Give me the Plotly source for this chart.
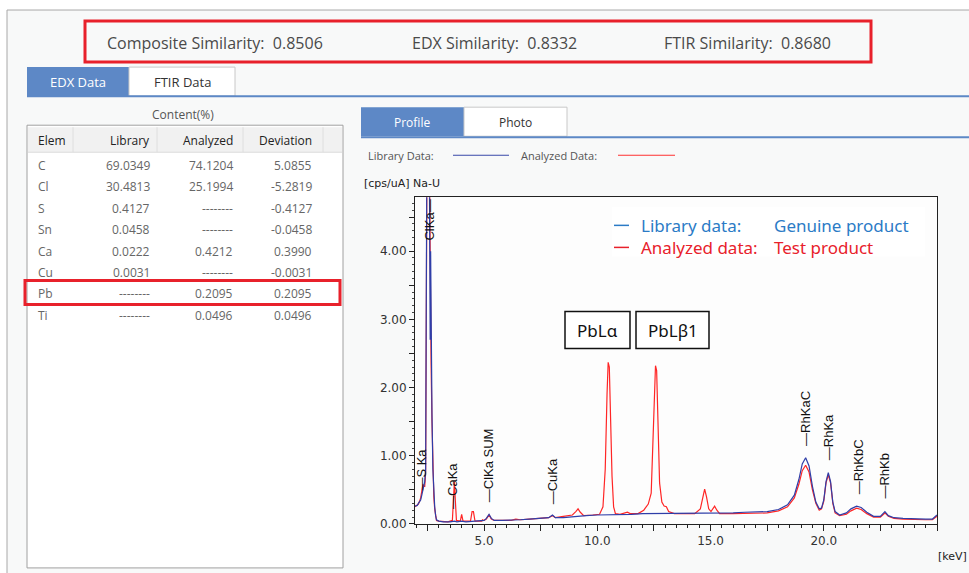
import plotly.graph_objects as go

# ---------------- data ----------------
lib_kev = [1.95, 2.00, 2.05, 2.10, 2.15, 2.20, 2.25, 2.30, 2.34, 2.38, 2.42, 2.45, 2.48, 2.56, 2.60, 2.62,
           2.64, 2.66, 2.70, 2.74, 2.78, 2.82, 2.86, 2.90, 3.00, 3.20, 3.50, 3.69, 3.80, 4.00, 4.20, 4.50,
           4.80, 5.00, 5.10, 5.22, 5.32, 5.45, 5.80, 6.20, 6.60, 7.00, 7.50, 7.85, 8.02, 8.15, 8.50, 9.00,
           9.50, 10.00, 10.50, 11.00, 11.50, 12.00, 12.50, 13.00, 13.50, 14.00, 14.50, 15.00, 15.50, 16.00,
           16.50, 17.00, 17.50, 18.00, 18.40, 18.70, 18.90, 19.05, 19.20, 19.35, 19.50, 19.65, 19.80, 19.90,
           20.00, 20.10, 20.20, 20.30, 20.40, 20.50, 20.70, 21.00, 21.20, 21.45, 21.65, 21.90, 22.20, 22.50,
           22.70, 22.85, 23.10, 23.50, 24.00, 24.50, 24.80, 24.95, 25.00]
lib_cps = [0.26, 0.27, 0.27, 0.30, 0.32, 0.35, 0.42, 0.52, 0.58, 0.62, 0.80, 2.50, 6.00, 7.00, 5.00, 2.70,
           4.00, 2.80, 1.60, 0.80, 0.45, 0.25, 0.12, 0.06, 0.04, 0.03, 0.03, 0.04, 0.03, 0.04, 0.03, 0.04,
           0.04, 0.05, 0.08, 0.14, 0.08, 0.05, 0.05, 0.05, 0.06, 0.07, 0.08, 0.09, 0.13, 0.09, 0.09, 0.11,
           0.12, 0.13, 0.13, 0.14, 0.14, 0.15, 0.15, 0.16, 0.16, 0.16, 0.16, 0.16, 0.16, 0.16,
           0.17, 0.17, 0.18, 0.21, 0.28, 0.42, 0.65, 0.88, 0.97, 0.85, 0.55, 0.32, 0.22, 0.23,
           0.35, 0.62, 0.75, 0.62, 0.32, 0.18, 0.13, 0.16, 0.22, 0.26, 0.24, 0.17, 0.11, 0.11,
           0.18, 0.12, 0.09, 0.08, 0.07, 0.07, 0.07, 0.11, 0.13]

ana_kev = [1.95, 2.05, 2.10, 2.15, 2.20, 2.25, 2.30, 2.34, 2.38, 2.42, 2.45, 2.48, 2.56, 2.60, 2.62, 2.64,
           2.66, 2.70, 2.74, 2.78, 2.82, 2.86, 2.90, 3.00, 3.20, 3.40, 3.60, 3.65, 3.69, 3.73, 3.78, 3.95,
           4.01, 4.07, 4.40, 4.47, 4.53, 4.60, 4.90, 4.93, 5.00, 5.10, 5.22, 5.32, 5.45, 5.80, 6.20, 6.40,
           6.60, 7.00, 7.50, 7.85, 8.02, 8.15, 8.50, 8.90, 9.05, 9.15, 9.25, 9.40, 9.80, 10.10, 10.25,
           10.35, 10.43, 10.48, 10.53, 10.58, 10.65, 10.72, 10.80, 11.00, 11.20, 11.33, 11.45, 11.80, 12.05,
           12.25, 12.38, 12.45, 12.52, 12.57, 12.62, 12.68, 12.75, 12.85, 12.95, 13.05, 13.15, 13.40, 13.80,
           14.30, 14.55, 14.68, 14.74, 14.82, 14.92, 15.02, 15.18, 15.28, 15.40, 16.00, 16.50, 17.00, 17.50,
           18.00, 18.40, 18.70, 18.90, 19.05, 19.20, 19.35, 19.50, 19.65, 19.80, 19.90, 20.00, 20.10, 20.20,
           20.30, 20.40, 20.50, 20.70, 21.00, 21.20, 21.45, 21.65, 21.90, 22.20, 22.50, 22.70, 22.85, 23.10,
           23.50, 24.00, 24.50, 24.80, 24.95, 25.00]
ana_cps = [0.25, 0.27, 0.29, 0.33, 0.38, 0.48, 0.58, 0.55, 0.55, 0.75, 2.30, 5.50, 6.50, 4.50, 3.00, 3.25,
           2.35, 1.50, 0.85, 0.40, 0.22, 0.10, 0.05, 0.04, 0.03, 0.03, 0.05, 0.35, 0.62, 0.35, 0.05, 0.04,
           0.14, 0.04, 0.04, 0.18, 0.18, 0.04, 0.04, 0.06, 0.05, 0.07, 0.13, 0.07, 0.05, 0.05, 0.05, 0.07,
           0.06, 0.07, 0.08, 0.09, 0.12, 0.09, 0.11, 0.13, 0.18, 0.22, 0.17, 0.12, 0.13, 0.14, 0.25,
           0.80, 1.90, 2.37, 2.30, 1.60, 0.70, 0.25, 0.15, 0.14, 0.16, 0.17, 0.15, 0.15, 0.20,
           0.29, 0.45, 1.20, 2.00, 2.32, 2.25, 1.50, 0.60, 0.32, 0.26, 0.25, 0.18, 0.15, 0.15,
           0.15, 0.22, 0.45, 0.51, 0.40, 0.22, 0.18, 0.26, 0.20, 0.15, 0.15, 0.15, 0.15, 0.16,
           0.19, 0.25, 0.38, 0.58, 0.78, 0.86, 0.76, 0.50, 0.30, 0.20, 0.22, 0.33, 0.60, 0.72,
           0.60, 0.30, 0.16, 0.12, 0.14, 0.19, 0.23, 0.21, 0.15, 0.10, 0.10, 0.16, 0.11, 0.08,
           0.07, 0.06, 0.06, 0.06, 0.09, 0.11]

peak_names = ["S Ka", "ClKa", "CaKa", "ClKa SUM", "CuKa", "RhKaC", "RhKa", "RhKbC", "RhKb"]
peak_kev = [2.22, 2.57, 3.63, 5.18, 8.01, 19.21, 20.22, 21.55, 22.70]
peak_label_base = [0.46, 4.12, 0.19, 0.29, 0.26, 1.12, 0.90, 0.41, 0.34]

x_tick_vals = [2.5, 5.0, 7.5, 10.0, 12.5, 15.0, 17.5, 20.0, 22.5, 25.0]
x_tick_text = ["", "5.0", "", "10.0", "", "15.0", "", "20.0", "", ""]
y_tick_vals = [0.0, 0.5, 1.0, 1.5, 2.0, 2.5, 3.0, 3.5, 4.0, 4.5]
y_tick_text = ["0.00", "", "1.00", "", "2.00", "", "3.00", "", "4.00", ""]

similarity_labels = ["Composite Similarity:  0.8506", "EDX Similarity:  0.8332", "FTIR Similarity:  0.8680"]

table_cols = ["Elem", "Library", "Analyzed", "Deviation"]
elements = ["C", "Cl", "S", "Sn", "Ca", "Cu", "Pb", "Ti"]
library = ["69.0349", "30.4813", "0.4127", "0.0458", "0.0222", "0.0031", "--------", "--------"]
analyzed = ["74.1204", "25.1994", "--------", "--------", "0.4212", "--------", "0.2095", "0.0496"]
deviation = ["5.0855", "-5.2819", "-0.4127", "-0.0458", "0.3990", "-0.0031", "0.2095", "0.0496"]

# ---------------- layout helpers ----------------
W, H = 969, 573
KY = 1.014  # vertical calibration of design pixels

def PX(p):
    return p / W

def PY(p):
    return 1 - p * KY / H

BLUE_TAB = "#5d88c6"
UI_FONT = "Open Sans"
RED = "#e8212b"

shapes = []
annos = []

def rect(x0, y0, x1, y1, fill=None, line=None, lw=1, layer="below"):
    shapes.append(dict(type="rect", xref="paper", yref="paper",
                       x0=PX(x0), x1=PX(x1), y0=PY(y1), y1=PY(y0),
                       fillcolor=fill if fill else "rgba(0,0,0,0)",
                       line=dict(color=line if line else "rgba(0,0,0,0)", width=lw if line else 0),
                       layer=layer))

def hline(x0, x1, y, color, lw=1, layer="below"):
    shapes.append(dict(type="line", xref="paper", yref="paper",
                       x0=PX(x0), x1=PX(x1), y0=PY(y), y1=PY(y),
                       line=dict(color=color, width=lw), layer=layer))

def vline(x, y0, y1, color, lw=1, layer="below"):
    shapes.append(dict(type="line", xref="paper", yref="paper",
                       x0=PX(x), x1=PX(x), y0=PY(y0), y1=PY(y1),
                       line=dict(color=color, width=lw), layer=layer))

def text(x, y, s, size=12, color="#444", xanchor="left", family=UI_FONT):
    annos.append(dict(xref="paper", yref="paper", x=PX(x), y=PY(y), text=s, showarrow=False,
                      xanchor=xanchor, yanchor="middle", font=dict(family=family, size=size, color=color)))

# outer frame & background
rect(7, 10, 975, 590, fill="#f8f9f9", line="#a8a8a8", lw=1)

# similarity box
rect(85, 21, 871, 62, line=RED, lw=3, layer="above")
sim_x = [105, 410, 662]
for sx, s in zip(sim_x, similarity_labels):
    text(sx, 43, s, size=16, color="#4a4a4a", family="Open Sans")

# top tabs
rect(27, 67, 129, 96, fill=BLUE_TAB)
rect(129, 67, 235, 96, fill="#ffffff", line="#c8c8c8")
text(78, 82, "EDX Data", 13, "#ffffff", "center")
text(182, 82, "FTIR Data", 13, "#333333", "center")
hline(27, 969, 96, BLUE_TAB, 2)

# left content table
text(183, 114, "Content(%)", 12, "#555555", "center")
rect(27, 125, 343, 567, fill="#ffffff", line="#a0a0a0")
rect(28, 127, 342, 152, fill="#f1f1f1")
hline(28, 342, 152, "#dcdcdc")
for sx in [73, 157, 243, 323]:
    vline(sx, 127, 152, "#dedede")
col_x = [36, 152, 235, 314]
col_anchor = ["left", "right", "right", "right"]
for cx, ca, c in zip(col_x, col_anchor, table_cols):
    text(cx, 140, c, 12, "#222222", ca)
for i in range(len(elements)):
    ry = 165 + i * 21.4
    for cx, ca, v in zip(col_x, col_anchor, [elements[i], library[i], analyzed[i], deviation[i]]):
        text(cx, ry, v, 12, "#666666", ca)
rect(25, 280, 340, 304, line=RED, lw=3, layer="above")

# right panel tabs
rect(361, 107, 464, 136, fill=BLUE_TAB)
rect(464, 107, 567, 136, fill="#ffffff", line="#c8c8c8")
text(412, 122, "Profile", 12, "#ffffff", "center")
text(515, 122, "Photo", 12, "#333333", "center")
hline(361, 969, 137, BLUE_TAB, 2)

text(366, 155, "Library Data:", 11, "#555555")
hline(453, 509, 155, "#3949a8", 1.2)
text(519, 155, "Analyzed Data:", 11, "#555555")
hline(618, 675, 155, "#ff3030", 1.2)
text(362, 183, "[cps/uA] Na-U", 11, "#222222", family="DejaVu Sans")
text(969, 556, "[keV]", 11, "#222222", "right", family="DejaVu Sans")

# plot background
rect(415, 197, 937, 523, fill="#fdfdfd")

# in-plot legend box
rect(612, 207, 925, 256, fill="#ffffff", layer="above")
hline(614, 629, 225, "#2b7bc6", 1.5, layer="above")
hline(614, 629, 247, "#e8212b", 1.5, layer="above")
text(639, 225, "Library data:", 17, "#2b7bc6", family="Noto Sans")
text(772, 225, "Genuine product", 17, "#2b7bc6", family="Noto Sans")
text(639, 247, "Analyzed data:", 17, "#e8212b", family="Noto Sans")
text(772, 247, "Test product", 17, "#e8212b", family="Noto Sans")

# Pb line boxes
rect(565, 311, 630, 348, fill="#ffffff", line="#111111", lw=1.5, layer="above")
rect(636, 311, 709, 348, fill="#ffffff", line="#111111", lw=1.5, layer="above")
text(597.5, 330, "PbLα", 17, "#111111", "center", family="Noto Sans")
text(672.5, 330, "PbLβ1", 17, "#111111", "center", family="Noto Sans")

# peak labels
for name, kv, base in zip(peak_names, peak_kev, peak_label_base):
    label = name + "—" if name == "ClKa" else "—" + name
    annos.append(dict(xref="x", yref="y", x=kv, y=base, text=label, showarrow=False,
                      textangle=-90, xanchor="center", yanchor="bottom",
                      font=dict(family="Liberation Sans", size=13, color="#111111")))

fig = go.Figure()
fig.add_trace(go.Scatter(x=ana_kev, y=ana_cps, mode="lines", name="Analyzed Data",
                         line=dict(color="#ff2626", width=1.2), hoverinfo="skip"))
fig.add_trace(go.Scatter(x=lib_kev, y=lib_cps, mode="lines", name="Library Data",
                         line=dict(color="#2f3ea8", width=1.2), hoverinfo="skip"))

fig.update_layout(
    width=W, height=H, autosize=False,
    margin=dict(l=0, r=0, t=0, b=0),
    paper_bgcolor="#ffffff", plot_bgcolor="rgba(0,0,0,0)",
    showlegend=False,
    shapes=shapes, annotations=annos,
    xaxis=dict(domain=[PX(415), PX(937)], range=[1.95, 25.0], showgrid=False, zeroline=False,
               showline=True, mirror=True, linecolor="#222222", linewidth=1,
               tickmode="array", tickvals=x_tick_vals, ticktext=x_tick_text,
               ticks="outside", ticklen=6, tickcolor="#222222", tickwidth=1,
               minor=dict(dtick=0.5, ticks="outside", ticklen=3, tickcolor="#222222", showgrid=False),
               tickfont=dict(family="DejaVu Sans", size=12, color="#333333")),
    yaxis=dict(domain=[PY(523), PY(197)], range=[0, 4.79], showgrid=False, zeroline=False,
               showline=True, mirror=True, linecolor="#222222", linewidth=1,
               tickmode="array", tickvals=y_tick_vals, ticktext=y_tick_text,
               ticks="outside", ticklen=5, tickcolor="#222222", tickwidth=1,
               minor=dict(dtick=0.1, ticks="outside", ticklen=2, tickcolor="#444444", showgrid=False),
               tickfont=dict(family="DejaVu Sans", size=12, color="#333333")),
)

fig.write_html("out.html", config={"displayModeBar": False},
               post_script="document.body.style.margin='0';document.body.style.overflow='hidden';")
